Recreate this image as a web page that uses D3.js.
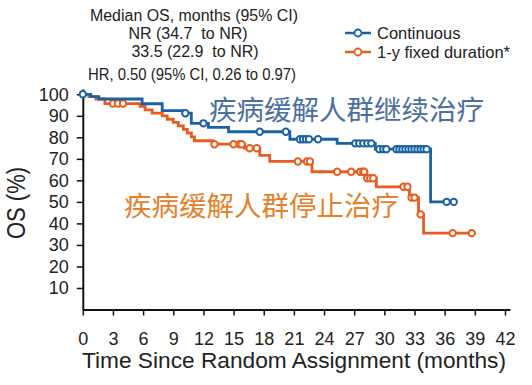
<!DOCTYPE html>
<html>
<head>
<meta charset="utf-8">
<script src="https://cdn.jsdelivr.net/npm/d3@7"></script>
<style>
  body { margin: 0; background: #fff; }
  svg { display: block; font-family: "Liberation Sans", Arial, sans-serif; }
</style>
</head>
<body>
<div id="chart"></div>
<script>
// step points (months, OS %)
var contTimes = [0, 0.8, 1.6, 5.9, 7.9, 10.0, 10.8, 12.5, 14.5, 20.6, 25.3, 29.1, 34.6, 36.9];
var contSurv  = [100, 98.9, 97.8, 95.6, 92.4, 91.2, 86.5, 84.6, 82.6, 79.1, 77.2, 74.5, 50, 50];
var contCensor = [0, 10.2, 12.0, 17.6, 20.2, 21.6, 21.9, 22.2, 22.5, 23.4, 27.1, 27.5, 27.9, 28.3, 28.7,
  29.5, 29.9, 30.2, 31.2, 31.5, 31.8, 32.1, 32.4, 32.7, 33.0, 33.3, 33.6, 33.9, 34.2, 36.2, 36.9];

var fixedTimes = [0, 0.6, 1.3, 2.2, 5.7, 6.2, 6.9, 7.9, 8.4, 9.0, 9.5, 10.0, 10.4, 10.8, 11.1, 12.9,
  16.1, 17.6, 18.6, 22.8, 28.1, 29.2, 32.5, 33.4, 33.9, 38.7];
var fixedSurv  = [100, 98.9, 97.8, 95.7, 94.4, 92.8, 91.2, 90.0, 88.4, 86.9, 85.3, 83.7, 82.0, 80.2, 78.4, 76.8,
  74.9, 71.6, 68.8, 64.0, 61.0, 57.0, 52.0, 44.2, 35.5, 35.5];
var fixedCensor = [3.0, 3.5, 4.0, 13.1, 15.0, 15.6, 15.8, 16.6, 17.3, 21.4, 22.3, 22.6, 25.3, 26.7, 27.6,
  27.9, 28.0, 28.3, 28.6, 28.9, 31.9, 32.3, 32.7, 33.0, 33.6, 36.8, 38.7];

var xTicks = d3.range(0, 43, 3);
var yTicks = [10, 20, 30, 40, 50, 60, 70, 80, 90, 100];

var medianLines = ["Median OS, months (95% CI)", "NR (34.7  to NR)", "33.5 (22.9  to NR)", "HR, 0.50 (95% CI, 0.26 to 0.97)"];
var legendNames = ["Continuous", "1-y fixed duration*"];

var blue = "#1b62a5", orange = "#e85d1f";

var width = 532, height = 385;
var svg = d3.select("#chart").append("svg")
  .attr("width", width)
  .attr("height", height);

var x = d3.scaleLinear().domain([0, 42.5]).range([82.8, 510]);
var y = d3.scaleLinear().domain([0, 102.5]).range([309.5, 88.9]);

// axes
var xAxis = svg.append("g")
  .attr("transform", "translate(0," + y(0) + ")")
  .call(d3.axisBottom(x).tickValues(xTicks).tickSize(6).tickPadding(17).tickSizeOuter(0));
var yAxis = svg.append("g")
  .attr("transform", "translate(" + x(0) + ",0)")
  .call(d3.axisLeft(y).tickValues(yTicks).tickSize(6).tickPadding(8).tickSizeOuter(0));

[xAxis, yAxis].forEach(function (g) {
  g.select(".domain").attr("stroke", "#111").attr("stroke-width", 2);
  g.selectAll(".tick line").attr("stroke", "#111").attr("stroke-width", 1.5);
  g.selectAll(".tick text").attr("fill", "#222").style("font-size", "18px");
});

svg.append("text")
  .attr("x", 82).attr("y", 368)
  .attr("textLength", 424).attr("lengthAdjust", "spacingAndGlyphs")
  .style("font-size", "22.5px").attr("fill", "#222")
  .text("Time Since Random Assignment (months)");

svg.append("text")
  .attr("transform", "translate(25,203) rotate(-90)")
  .attr("text-anchor", "middle")
  .attr("textLength", 72).attr("lengthAdjust", "spacingAndGlyphs")
  .style("font-size", "26px").attr("fill", "#222")
  .text("OS (%)");

// curves
function stepValue(times, surv, t) {
  var i = d3.bisectRight(times, t) - 1;
  return surv[Math.max(0, i)];
}

var line = d3.line()
  .x(function (d) { return x(d[0]); })
  .y(function (d) { return y(d[1]); })
  .curve(d3.curveStepAfter);

var series = [
  { times: fixedTimes, surv: fixedSurv, censor: fixedCensor, color: orange },
  { times: contTimes, surv: contSurv, censor: contCensor, color: blue }
];

series.forEach(function (s) {
  svg.append("path")
    .datum(d3.zip(s.times, s.surv))
    .attr("d", line)
    .attr("fill", "none")
    .attr("stroke", s.color)
    .attr("stroke-width", 2.8);

  svg.selectAll(null)
    .data(s.censor)
    .enter()
    .append("circle")
    .attr("cx", function (t) { return x(t); })
    .attr("cy", function (t) { return y(stepValue(s.times, s.surv, t)); })
    .attr("r", 3.2)
    .attr("fill", "#fff")
    .attr("stroke", s.color)
    .attr("stroke-width", 2);
});

// Chinese annotations
svg.append("text")
  .attr("x", 209).attr("y", 120)
  .style("font-family", "'Noto Sans CJK SC', sans-serif")
  .style("font-size", "27.5px").attr("fill", "#4a6fa0")
  .text("疾病缓解人群继续治疗");
svg.append("text")
  .attr("x", 124).attr("y", 216)
  .style("font-family", "'Noto Sans CJK SC', sans-serif")
  .style("font-size", "27.5px").attr("fill", "#e4812c")
  .text("疾病缓解人群停止治疗");

// median / HR text (centred lines)
var medX = [194, 188, 195, 192], medY = [21, 39, 57, 80];
svg.selectAll(".med")
  .data(medianLines)
  .enter()
  .append("text")
  .attr("class", "med")
  .attr("x", function (d, i) { return medX[i]; })
  .attr("y", function (d, i) { return medY[i]; })
  .attr("text-anchor", "middle")
  .attr("textLength", function (d, i) { return (i === 0 || i === 3) ? 208 : null; })
  .attr("lengthAdjust", "spacingAndGlyphs")
  .style("font-size", "16px").attr("fill", "#222")
  .style("white-space", "pre")
  .text(function (d) { return d; });

// legend
var legend = svg.selectAll(".leg")
  .data(legendNames)
  .enter()
  .append("g")
  .attr("class", "leg")
  .attr("transform", function (d, i) { return "translate(345," + (33 + i * 19) + ")"; });
legend.append("line")
  .attr("x1", 0).attr("x2", 26)
  .attr("stroke", function (d, i) { return i === 0 ? blue : orange; })
  .attr("stroke-width", 2.5);
legend.append("circle")
  .attr("cx", 13).attr("r", 3.5)
  .attr("fill", "#fff")
  .attr("stroke", function (d, i) { return i === 0 ? blue : orange; })
  .attr("stroke-width", 1.8);
legend.append("text")
  .attr("x", 32).attr("dy", "0.35em")
  .style("font-size", "16.5px").attr("fill", "#222")
  .text(function (d) { return d; });
</script>
</body>
</html>
